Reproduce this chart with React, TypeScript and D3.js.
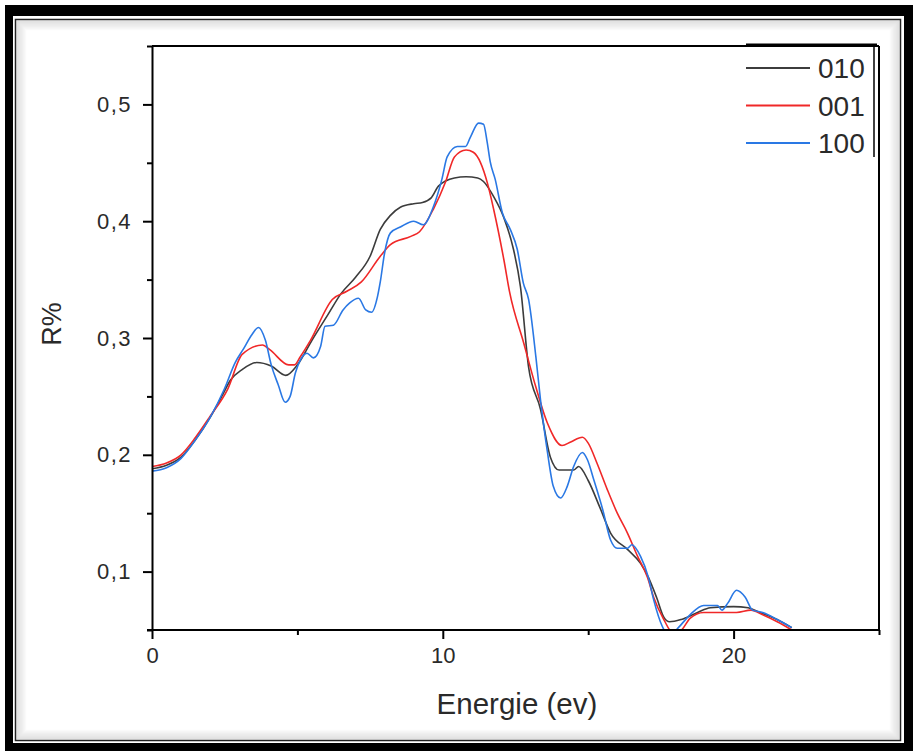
import React, { useEffect, useRef } from 'react'
import * as d3 from 'd3'

const svgWidth = 913
const svgHeight = 751
const margin = { top: 46, right: 34, bottom: 121, left: 152 }
const graphWidth = svgWidth - margin.left - margin.right
const graphHeight = svgHeight - margin.top - margin.bottom

// energy (eV) / reflectivity
const e010 = [0, 0.5, 1, 1.5, 2, 2.4, 2.7, 3.1, 3.6, 4.1, 4.6, 5.0, 5.5, 6.05, 6.5, 7.0, 7.5, 7.85, 8.2, 8.54, 9.0, 9.3, 9.6, 9.85, 10.4, 10.8, 11.2, 11.4, 11.75, 12.1, 12.43, 12.67, 12.95, 13.36, 13.7, 14.0, 14.5, 14.67, 15.0, 15.4, 15.77, 16.35, 16.8, 17.07, 17.35, 17.6, 17.8, 18.2, 18.76, 19.2, 20.0, 20.5, 20.9, 21.4, 22.0]
const r010 = [0.188, 0.191, 0.198, 0.213, 0.232, 0.25, 0.264, 0.273, 0.279, 0.276, 0.268, 0.277, 0.298, 0.32, 0.338, 0.352, 0.37, 0.393, 0.405, 0.412, 0.415, 0.416, 0.42, 0.43, 0.437, 0.438, 0.437, 0.434, 0.421, 0.403, 0.376, 0.344, 0.275, 0.239, 0.198, 0.187, 0.187, 0.19, 0.178, 0.155, 0.133, 0.119, 0.107, 0.095, 0.078, 0.061, 0.057, 0.059, 0.065, 0.069, 0.07, 0.069, 0.065, 0.06, 0.052]

const e001 = [0, 0.5, 1, 1.5, 2, 2.6, 3.1, 3.8, 4.05, 4.7, 4.9, 5.1, 5.45, 6.2, 6.7, 7.2, 7.85, 8.2, 8.9, 9.2, 9.67, 10.1, 10.4, 10.8, 11.05, 11.3, 11.53, 11.75, 12.1, 12.3, 12.78, 13.2, 13.6, 14.1, 14.4, 14.8, 15.0, 15.3, 15.66, 16.0, 16.35, 16.7, 17.04, 17.25, 17.6, 17.9, 18.2, 18.5, 18.97, 19.5, 20.1, 20.6, 21.0, 21.5, 22.0]
const r001 = [0.19, 0.193, 0.2, 0.215, 0.233, 0.256, 0.286, 0.294, 0.29, 0.277, 0.277, 0.284, 0.298, 0.333, 0.34, 0.348, 0.37, 0.38, 0.387, 0.391, 0.41, 0.434, 0.455, 0.461, 0.459, 0.45, 0.433, 0.41, 0.367, 0.339, 0.296, 0.258, 0.227, 0.208, 0.211, 0.215, 0.21, 0.193, 0.17, 0.15, 0.133, 0.113, 0.095, 0.078, 0.059, 0.048, 0.05, 0.06, 0.065, 0.065, 0.065, 0.067, 0.063, 0.057, 0.05]

const e100 = [0, 0.5, 1, 1.5, 2, 2.5, 2.86, 3.13, 3.44, 3.66, 3.9, 4.1, 4.34, 4.58, 4.75, 4.93, 5.1, 5.33, 5.55, 5.8, 5.95, 6.24, 6.57, 6.8, 7.1, 7.35, 7.55, 7.75, 7.85, 8.0, 8.2, 8.54, 9.0, 9.33, 9.67, 9.97, 10.15, 10.5, 10.78, 10.95, 11.23, 11.4, 11.53, 11.63, 11.8, 12.05, 12.32, 12.56, 12.77, 12.95, 13.2, 13.36, 13.6, 13.8, 14.05, 14.28, 14.5, 14.8, 14.97, 15.2, 15.5, 15.77, 16.0, 16.35, 16.5, 16.8, 17.07, 17.25, 17.55, 17.8, 18.1, 18.5, 18.97, 19.45, 19.6, 19.8, 20.1, 20.4, 20.65, 21.0, 21.5, 22.0]
const r100 = [0.186, 0.189, 0.197, 0.213, 0.232, 0.257, 0.279, 0.29, 0.303, 0.309, 0.298, 0.277, 0.26, 0.245, 0.25, 0.27, 0.281, 0.287, 0.283, 0.293, 0.31, 0.311, 0.324, 0.33, 0.334, 0.324, 0.322, 0.335, 0.348, 0.373, 0.39, 0.395, 0.4, 0.397, 0.412, 0.436, 0.455, 0.464, 0.464, 0.472, 0.484, 0.483, 0.467, 0.451, 0.436, 0.407, 0.393, 0.376, 0.347, 0.333, 0.284, 0.247, 0.202, 0.173, 0.163, 0.173, 0.19, 0.202, 0.196, 0.178, 0.153, 0.127, 0.12, 0.12, 0.123, 0.113, 0.095, 0.076, 0.053, 0.045, 0.052, 0.063, 0.071, 0.071, 0.067, 0.073, 0.084, 0.078, 0.067, 0.065, 0.059, 0.052]

const seriesNames = ['010', '001', '100']
const seriesColors = ['#3c3c3c', '#f02828', '#2a78e4']

const xMajor = [0, 10, 20]
const xMinor = [5, 15, 25]
const yMajor = [0.1, 0.2, 0.3, 0.4, 0.5]
const yMinor = [0.05, 0.15, 0.25, 0.35, 0.45, 0.55]

const font = '"Liberation Sans", Arial, sans-serif'

export default function App() {
	const ref = useRef<SVGSVGElement>(null)

	useEffect(() => {
		const svg = d3.select(ref.current)
		svg.selectAll('*').remove()

		// picture frame
		svg.append('rect').attr('width', svgWidth).attr('height', svgHeight).attr('fill', 'white')
		svg.append('rect').attr('x', 5).attr('y', 5).attr('width', 908).attr('height', 746).attr('fill', 'black')
		svg.append('rect').attr('x', 13).attr('y', 16).attr('width', 891).attr('height', 727).attr('fill', 'white')
		svg.append('rect').attr('x', 15.5).attr('y', 19.5).attr('width', 885).attr('height', 721)
			.attr('fill', 'white').attr('stroke', '#222').attr('stroke-width', 1.5)
		for (let i = 0; i < 10; i++) {
			svg.append('rect')
				.attr('x', 17 + i).attr('y', 21 + i)
				.attr('width', 882 - 2 * i).attr('height', 718 - 2 * i)
				.attr('fill', 'none')
				.attr('stroke', '#888')
				.attr('stroke-opacity', 0.28 * (1 - i / 10))
		}

		const xScale = d3.scaleLinear().domain([0, 25]).range([0, graphWidth])
		const yScale = d3.scaleLinear().domain([0.05, 0.55]).range([graphHeight, 0])

		const graph = svg.append('g').attr('transform', `translate(${margin.left}, ${margin.top})`)

		graph.append('defs').append('clipPath').attr('id', 'plotclip')
			.append('rect').attr('width', graphWidth).attr('height', graphHeight)

		const series = [
			{ e: e010, r: r010 },
			{ e: e001, r: r001 },
			{ e: e100, r: r100 },
		]
		const line = d3.line<[number, number]>()
			.x(d => xScale(d[0]))
			.y(d => yScale(d[1]))
			.curve(d3.curveMonotoneX)

		const lines = graph.append('g').attr('clip-path', 'url(#plotclip)')
		series.forEach((s, i) => {
			lines.append('path')
				.datum(s.e.map((e, j) => [e, s.r[j]] as [number, number]))
				.attr('d', line)
				.attr('fill', 'none')
				.attr('stroke', seriesColors[i])
				.attr('stroke-width', 1.6)
		})

		// top / right frame
		graph.append('line').attr('x1', 0).attr('x2', graphWidth).attr('y1', 0).attr('y2', 0)
			.attr('stroke', 'black').attr('stroke-width', 2)
		graph.append('line').attr('x1', graphWidth).attr('x2', graphWidth).attr('y1', 0).attr('y2', graphHeight)
			.attr('stroke', 'black').attr('stroke-width', 2)

		const styleAxis = (g: any) => {
			g.select('.domain').attr('stroke', 'black').attr('stroke-width', 2)
			g.selectAll('.tick line').attr('stroke', 'black').attr('stroke-width', 2)
			g.selectAll('text').attr('font-family', font).attr('font-size', 22).attr('fill', '#2a2a2a')
		}

		const xAxisGroup = graph.append('g').attr('transform', `translate(0, ${graphHeight})`)
		xAxisGroup.call(d3.axisBottom(xScale).tickValues(xMajor).tickSize(9).tickSizeOuter(0).tickPadding(8).tickFormat(d3.format('d')))
		styleAxis(xAxisGroup)
		xAxisGroup.append('g').call(d3.axisBottom(xScale).tickValues(xMinor).tickSize(5).tickFormat(() => ''))
			.call((g: any) => g.select('.domain').remove())
			.selectAll('line').attr('stroke', 'black').attr('stroke-width', 2)
		xAxisGroup.select('.domain').attr('d', `M-5,0H${graphWidth}`)

		const yAxisGroup = graph.append('g')
		yAxisGroup.call(d3.axisLeft(yScale).tickValues(yMajor).tickSize(9).tickSizeOuter(0).tickPadding(11)
			.tickFormat(d => d3.format('.1f')(d as number).replace('.', ',')))
		styleAxis(yAxisGroup)
		yAxisGroup.selectAll('.tick text').attr('letter-spacing', 1.5)
		yAxisGroup.append('g').call(d3.axisLeft(yScale).tickValues(yMinor).tickSize(5).tickFormat(() => ''))
			.call((g: any) => g.select('.domain').remove())
			.selectAll('line').attr('stroke', 'black').attr('stroke-width', 2)

		// axis titles
		graph.append('text')
			.attr('x', xScale(12.55)).attr('y', graphHeight + 84)
			.attr('text-anchor', 'middle')
			.attr('font-family', font).attr('font-size', 29.5).attr('fill', '#2a2a2a')
			.text('Energie (ev)')
		graph.append('text')
			.attr('transform', `translate(${-98}, ${yScale(0.3) - 14}) rotate(-90)`)
			.attr('text-anchor', 'middle').attr('dominant-baseline', 'middle')
			.attr('font-family', font).attr('font-size', 27).attr('fill', '#2a2a2a')
			.text('R%')

		// legend
		const legend = svg.append('g')
		legend.append('line').attr('x1', 746).attr('x2', 877).attr('y1', 45).attr('y2', 45)
			.attr('stroke', 'black').attr('stroke-width', 3)
		legend.append('line').attr('x1', 874).attr('x2', 874).attr('y1', 45).attr('y2', 157)
			.attr('stroke', 'black').attr('stroke-width', 1.5)
		seriesNames.forEach((name, i) => {
			const y = 68 + i * 37.5
			legend.append('line').attr('x1', 746).attr('x2', 810).attr('y1', y).attr('y2', y)
				.attr('stroke', seriesColors[i]).attr('stroke-width', 1.8)
			legend.append('text').attr('x', 818).attr('y', y).attr('dy', '0.36em')
				.attr('font-family', font).attr('font-size', 28).attr('fill', '#2a2a2a')
				.text(name)
		})
	}, [])

	return (
		<svg
			ref={ref}
			width={svgWidth}
			height={svgHeight}
			style={{ position: 'absolute', left: 0, top: 0, display: 'block' }}
		/>
	)
}
